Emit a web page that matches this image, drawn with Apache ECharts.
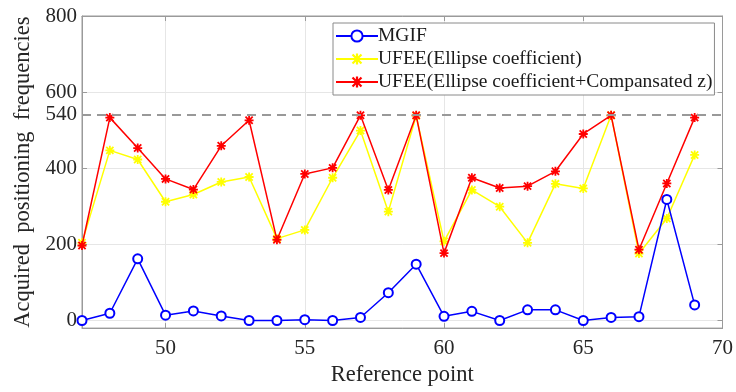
<!DOCTYPE html>
<html>
<head>
<meta charset="utf-8">
<script src="https://cdn.jsdelivr.net/npm/echarts@6/dist/echarts.min.js"></script>
<style>html,body{margin:0;padding:0;background:#fff;}#c{width:736px;height:392px;}</style>
</head>
<body>
<div id="c"></div>
<script>
const refPoints = [47,48,49,50,51,52,53,54,55,56,57,58,59,60,61,62,63,64,65,66,67,68,69];
const mgif = [0,19,162,14,25,12,0,0,2,0,8,73,148,11,24,0,28,28,0,8,10,318,41];
const ufeeEllipse = [204,447,423,312,331,364,377,215,238,375,499,286,538,208,343,299,204,359,347,539,176,268,435];
const ufeeComp = [197,533,453,372,344,459,526,212,385,401,539,343,539,177,375,348,353,392,490,539,186,360,533];
const xTicks = [50,55,60,65,70];
const yGridTicks = [0,200,400,600,800];
const yLabelTicks = [0,200,400,540,600,800];
const refLine = 540;
const seriesNames = ['MGIF','UFEE(Ellipse coefficient)','UFEE(Ellipse coefficient+Compansated z)'];

const star = 'path://M0 4 H10 V6 H0 Z M4 0 H6 V10 H4 Z M1.7 0.3 L9.7 8.3 L8.3 9.7 L0.3 1.7 Z M8.3 0.3 L9.7 1.7 L1.7 9.7 L0.3 8.3 Z';
const font = 'Liberation Serif';
const chart = echarts.init(document.getElementById('c'));
const pair = a => refPoints.map((x,i)=>[x,a[i]]);
chart.setOption({
  animation:false,
  backgroundColor:'#fff',
  grid:{left:82,right:11,top:16,bottom:60,show:true,borderColor:'#9a9a9a',borderWidth:1,backgroundColor:'transparent'},
  legend:{
    orient:'vertical',left:333,top:23,
    backgroundColor:'#fff',borderColor:'#8a8a8a',borderWidth:1,borderRadius:0,
    padding:[3,2,3,2],itemGap:3,itemWidth:42,itemHeight:14,
    textStyle:{fontFamily:font,fontSize:19.5,color:'#1a1a1a',padding:[0,0,0,-5]},
    data:seriesNames
  },
  xAxis:[{
    type:'value',min:47,max:70,
    name:'Reference point',nameLocation:'middle',nameGap:35,
    nameTextStyle:{fontFamily:font,fontSize:22.5,color:'#262626'},
    axisLine:{show:true,onZero:false,lineStyle:{color:'#9a9a9a'}},
    axisTick:{show:true,inside:true,length:5,customValues:xTicks,lineStyle:{color:'#9a9a9a'}},
    axisLabel:{customValues:xTicks,fontFamily:font,fontSize:21,color:'#262626',margin:10},
    splitLine:{show:true,lineStyle:{color:'#e6e6e6',width:1}}
  },{
    type:'value',min:47,max:70,position:'top',
    axisLine:{show:true,onZero:false,lineStyle:{color:'#9a9a9a'}},
    axisTick:{show:true,inside:true,length:5,customValues:xTicks,lineStyle:{color:'#9a9a9a'}},
    axisLabel:{show:false},splitLine:{show:false}
  }],
  yAxis:[{
    type:'value',min:-20,max:800,
    name:'Acquired  positioning  frequencies',nameLocation:'middle',nameGap:43,
    nameTextStyle:{fontFamily:font,fontSize:22.5,color:'#262626'},
    axisLine:{show:true,onZero:false,lineStyle:{color:'#9a9a9a'}},
    axisTick:{show:true,inside:true,length:5,customValues:yGridTicks,lineStyle:{color:'#9a9a9a'}},
    axisLabel:{customValues:yLabelTicks,fontFamily:font,fontSize:21,color:'#262626',margin:5},
    splitLine:{show:true,lineStyle:{color:'#e6e6e6',width:1}}
  },{
    type:'value',min:-20,max:800,position:'right',
    axisLine:{show:true,onZero:false,lineStyle:{color:'#9a9a9a'}},
    axisTick:{show:true,inside:true,length:5,customValues:yGridTicks,lineStyle:{color:'#9a9a9a'}},
    axisLabel:{show:false},splitLine:{show:false}
  }],
  series:[{
    name:seriesNames[0],type:'line',data:pair(mgif),
    symbol:'emptyCircle',symbolSize:9,showAllSymbol:true,
    lineStyle:{color:'#0000ff',width:1.5},
    itemStyle:{color:'#0000ff',borderColor:'#0000ff',borderWidth:1.5},
    z:4
  },{
    name:seriesNames[1],type:'line',data:pair(ufeeEllipse),
    symbol:star,symbolSize:9,showAllSymbol:true,
    lineStyle:{color:'#ffff00',width:1.5},
    itemStyle:{color:'#ffff00'},
    z:2
  },{
    name:seriesNames[2],type:'line',data:pair(ufeeComp),
    symbol:star,symbolSize:9,showAllSymbol:true,
    lineStyle:{color:'#ff0000',width:1.5},
    itemStyle:{color:'#ff0000'},
    z:3,
    markLine:{
      silent:true,symbol:['none','none'],label:{show:false},
      lineStyle:{color:'#999999',type:[9,6],width:2},
      data:[{yAxis:refLine}]
    }
  }]
});
</script>
</body>
</html>
